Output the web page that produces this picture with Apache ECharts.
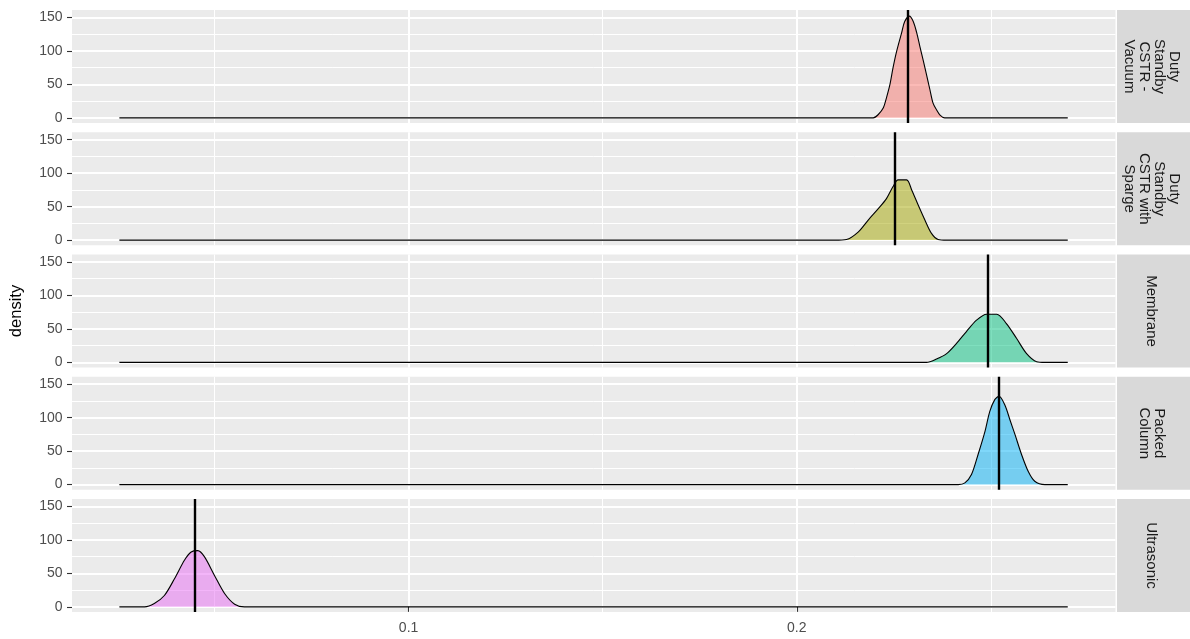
<!DOCTYPE html>
<html>
<head>
<meta charset="utf-8">
<script src="https://cdn.jsdelivr.net/npm/echarts@6/dist/echarts.min.js"></script>
<style>html,body{margin:0;padding:0;background:#fff;}#chart{width:1190px;height:639px;}</style>
</head>
<body>
<div id="chart"></div>
<script>
// ---- data ----
const panelLabels = ["Duty\nStandby\nCSTR -\nVacuum", "Duty\nStandby\nCSTR with\nSparge", "Membrane", "Packed\nColumn", "Ultrasonic"];
const fillColors = ["#F8766D", "#A3A500", "#00BF7D", "#00B0F6", "#E76BF3"];
const densitySpan = [0.0255, 0.2698];
const vacuumDensity = [[0.2197,0],[0.2210,5],[0.2223,15],[0.2231,30],[0.2240,50],[0.2248,75],[0.2257,99],[0.2270,127],[0.2278,144],[0.2290,152],[0.2300,144],[0.2309,127],[0.2317,107],[0.2326,85],[0.2334,65],[0.2343,42],[0.2351,22],[0.2360,12],[0.2369,4],[0.2381,0]];
const spargeDensity = [[0.2098,0],[0.2128,1],[0.2158,12],[0.2184,30],[0.2210,47],[0.2231,62],[0.2248,80],[0.2261,90],[0.2283,90],[0.2296,75],[0.2313,52],[0.2330,30],[0.2347,10],[0.2364,1],[0.2386,0]];
const membraneDensity = [[0.2334,0],[0.2360,5],[0.2386,13],[0.2411,28],[0.2437,46],[0.2463,63],[0.2489,72],[0.2515,72],[0.2540,58],[0.2566,36],[0.2592,13],[0.2618,1],[0.2639,0]];
const packedDensity = [[0.2416,0],[0.2433,2.5],[0.2450,15],[0.2467,45],[0.2485,80],[0.2497,109],[0.2510,127],[0.2521,132],[0.2536,119],[0.2549,97],[0.2562,75],[0.2579,45],[0.2596,20],[0.2613,5],[0.2639,0]];
const ultrasonicDensity = [[0.0320,0],[0.0345,5],[0.0371,17],[0.0397,42],[0.0423,70],[0.0440,82],[0.0457,84],[0.0474,75],[0.0500,47],[0.0526,20],[0.0552,4],[0.0577,0]];
const centerLines = [0.2285, 0.2253, 0.2493, 0.2521, 0.0450];
const yTicks = [0, 50, 100, 150];
const yMinorTicks = [25, 75, 125];
const xTicks = [0.1, 0.2];
const xMinorTicks = [0.05, 0.15, 0.25];
const xLimits = [0.0133, 0.2821];
const yLimits = [-7.7, 161.2];

const densities = [vacuumDensity, spargeDensity, membraneDensity, packedDensity, ultrasonicDensity];

// ---- layout ----
const FONT = "'Liberation Sans', Arial, sans-serif";
const left = 72, panelW = 1043.5, panelH = 113, firstTop = 10, pitch = 122.25;
const stripX = 1117, stripW = 73;
const tops = [0,1,2,3,4].map(i => firstTop + i * pitch);

const grids = [], xAxes = [], yAxes = [], series = [], graphics = [];
densities.forEach((d, i) => {
  grids.push({left: left, width: panelW, top: tops[i], height: panelH, show: true,
    backgroundColor: '#EBEBEB', borderWidth: 0});
  const last = i === 4;
  xAxes.push({type: 'value', gridIndex: i, position: 'bottom', min: xLimits[0], max: xLimits[1],
    axisLine: {show: false},
    axisTick: {show: last, customValues: xTicks, length: 5, lineStyle: {color: '#333333', width: 1.1}},
    axisLabel: {show: last, customValues: xTicks, color: '#4D4D4D', fontSize: 14, fontFamily: FONT, margin: 9},
    splitLine: {show: true, lineStyle: {color: '#FFFFFF', width: 2}}});
  xAxes.push({type: 'value', gridIndex: i, position: 'top', min: xLimits[0], max: xLimits[1],
    axisLine: {show: false},
    axisTick: {show: false, customValues: xMinorTicks},
    axisLabel: {show: false, customValues: xMinorTicks},
    splitLine: {show: true, lineStyle: {color: '#FFFFFF', width: 1}}});
  const yMain = {type: 'value', gridIndex: i, position: 'left', min: yLimits[0], max: yLimits[1],
    axisLine: {show: false},
    axisTick: {show: true, customValues: yTicks, length: 5, lineStyle: {color: '#333333', width: 1.1}},
    axisLabel: {show: true, customValues: yTicks, color: '#4D4D4D', fontSize: 14, fontFamily: FONT, margin: 9.5},
    splitLine: {show: true, lineStyle: {color: '#FFFFFF', width: 2}}};
  if (i === 2) {
    yMain.name = 'density';
    yMain.nameLocation = 'middle';
    yMain.nameGap = 47;
    yMain.nameTextStyle = {color: '#000000', fontSize: 16.5, fontFamily: FONT};
  }
  yAxes.push(yMain);
  yAxes.push({type: 'value', gridIndex: i, position: 'right', min: yLimits[0], max: yLimits[1],
    axisLine: {show: false},
    axisTick: {show: false, customValues: yMinorTicks},
    axisLabel: {show: false, customValues: yMinorTicks},
    splitLine: {show: true, lineStyle: {color: '#FFFFFF', width: 1}}});
  const pts = [[densitySpan[0], 0]].concat(d, [[densitySpan[1], 0]]);
  series.push({type: 'line', name: panelLabels[i], xAxisIndex: 2 * i, yAxisIndex: 2 * i,
    data: pts, showSymbol: false, smooth: 0.3, animation: false, silent: true,
    lineStyle: {color: '#000000', width: 1.1},
    areaStyle: {color: fillColors[i], opacity: 0.5},
    markLine: {silent: true, precision: 6, symbol: ['none', 'none'], label: {show: false}, animation: false,
      lineStyle: {color: '#000000', width: 2.4, type: 'solid'},
      data: [{xAxis: centerLines[i]}]}});
  graphics.push({type: 'rect', shape: {x: stripX, y: tops[i], width: stripW, height: panelH},
    style: {fill: '#D9D9D9'}, silent: true});
  graphics.push({type: 'text', x: 1151.5, y: tops[i] + panelH / 2, rotation: -Math.PI / 2,
    style: {text: panelLabels[i], fill: '#1A1A1A', fontSize: 15, fontFamily: FONT,
      align: 'center', verticalAlign: 'middle', textAlign: 'center', textVerticalAlign: 'middle', lineHeight: 15},
    silent: true});
});

const chart = echarts.init(document.getElementById('chart'), null, {renderer: 'canvas'});
chart.setOption({
  animation: false,
  backgroundColor: '#FFFFFF',
  grid: grids, xAxis: xAxes, yAxis: yAxes, series: series, graphic: graphics
});
</script>
</body>
</html>
